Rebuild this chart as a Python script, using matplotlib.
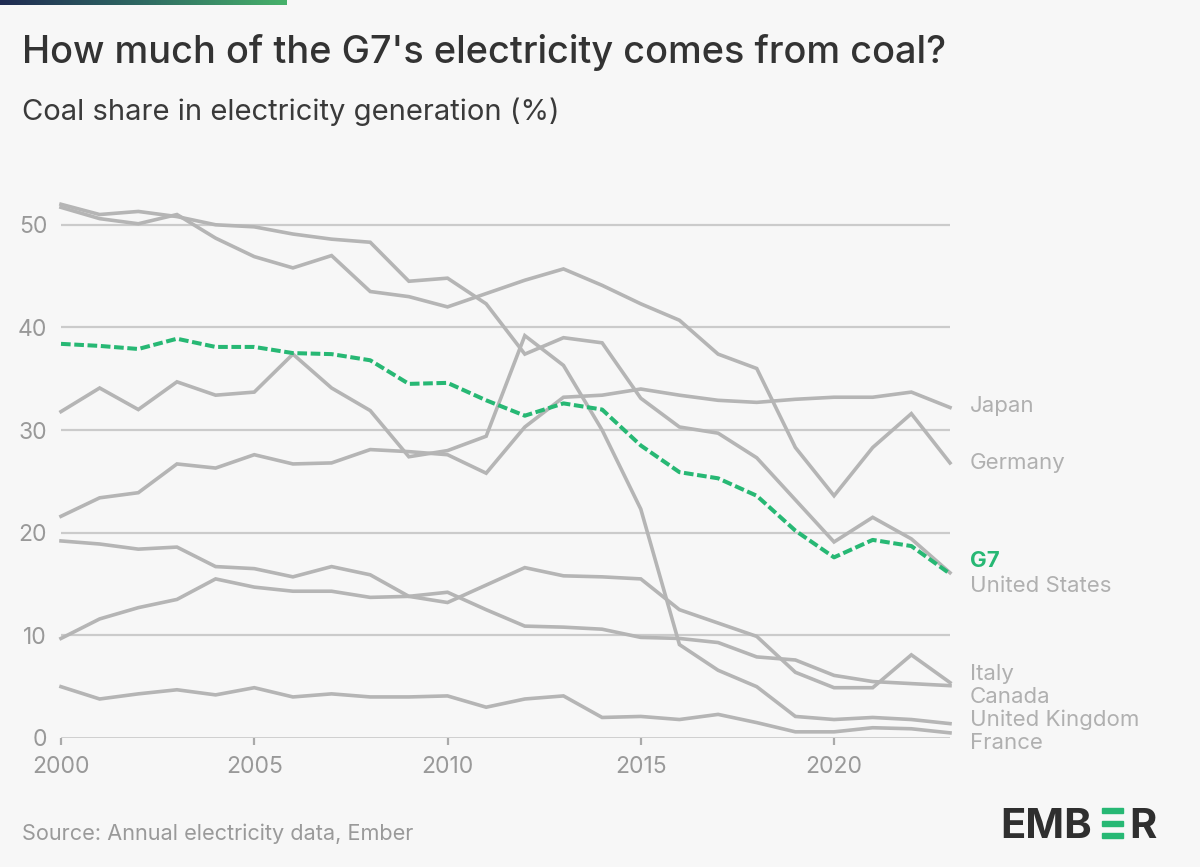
import matplotlib.pyplot as plt
import numpy as np
from matplotlib.colors import LinearSegmentedColormap
from matplotlib.patches import Rectangle

plt.rcParams['font.family'] = ['Inter', 'DejaVu Sans']

years = list(range(2000, 2024))

japan = [21.6, 23.4, 23.9, 26.7, 26.3, 27.6, 26.7, 26.8, 28.1, 27.9, 27.6, 25.8,
         30.3, 33.2, 33.4, 34.0, 33.4, 32.9, 32.7, 33.0, 33.2, 33.2, 33.7, 32.2]
germany = [51.7, 50.6, 50.1, 51.0, 48.7, 46.9, 45.8, 47.0, 43.5, 43.0, 42.0, 43.3,
           44.6, 45.7, 44.1, 42.3, 40.7, 37.4, 36.0, 28.3, 23.6, 28.3, 31.6, 26.8]
united_states = [52.0, 51.0, 51.3, 50.8, 50.0, 49.8, 49.1, 48.6, 48.3, 44.5, 44.8, 42.3,
                 37.4, 39.0, 38.5, 33.1, 30.3, 29.7, 27.3, 23.2, 19.1, 21.5, 19.4, 16.1]
italy = [9.7, 11.6, 12.7, 13.5, 15.5, 14.7, 14.3, 14.3, 13.7, 13.8, 13.2, 14.9,
         16.6, 15.8, 15.7, 15.5, 12.5, 11.2, 9.9, 6.4, 4.9, 4.9, 8.1, 5.4]
canada = [19.2, 18.9, 18.4, 18.6, 16.7, 16.5, 15.7, 16.7, 15.9, 13.8, 14.2, 12.5,
          10.9, 10.8, 10.6, 9.8, 9.7, 9.3, 7.9, 7.6, 6.1, 5.5, 5.3, 5.1]
united_kingdom = [31.8, 34.1, 32.0, 34.7, 33.4, 33.7, 37.4, 34.1, 31.9, 27.4, 28.0, 29.4,
                  39.2, 36.3, 30.0, 22.3, 9.1, 6.6, 5.0, 2.1, 1.8, 2.0, 1.8, 1.4]
france = [5.0, 3.8, 4.3, 4.7, 4.2, 4.9, 4.0, 4.3, 4.0, 4.0, 4.1, 3.0,
          3.8, 4.1, 2.0, 2.1, 1.8, 2.3, 1.5, 0.6, 0.6, 1.0, 0.9, 0.5]
g7 = [38.4, 38.2, 37.9, 38.9, 38.1, 38.1, 37.5, 37.4, 36.8, 34.5, 34.6, 32.9,
      31.4, 32.6, 32.0, 28.5, 25.9, 25.3, 23.6, 20.2, 17.6, 19.3, 18.7, 16.0]

countries = ['Japan', 'Germany', 'United States', 'Italy', 'Canada',
             'United Kingdom', 'France']
series = [japan, germany, united_states, italy, canada, united_kingdom, france]
label_y = [32.3, 26.8, 14.8, 6.2, 4.0, 1.75, -0.5]
g7_label_y = 17.2

bg = '#f7f7f7'
grey_line = '#b5b5b5'
green = '#27b874'

fig = plt.figure(figsize=(12, 8.67), dpi=100, facecolor=bg)
W, H = 1200, 867

# gradient bar at the top
bar_ax = fig.add_axes([0, 1 - 5 / H, 287 / W, 5 / H])
cmap = LinearSegmentedColormap.from_list('ember', ['#1f2b52', '#2f6a63', '#47b26b'])
bar_ax.imshow(np.linspace(0, 1, 256)[None, :], aspect='auto', cmap=cmap)
bar_ax.axis('off')

ax = fig.add_axes([61 / W, (H - 738) / H, (950 - 61) / W, 544 / H])
ax.set_facecolor(bg)
ax.set_xlim(2000, 2023)
ax.set_ylim(0, 53)

for v in [10, 20, 30, 40, 50]:
    ax.axhline(v, color='#cbcbcb', lw=1.6, zorder=1)
ax.axhline(0, color='#c4c4c4', lw=1.8, zorder=1)

for vals in series:
    ax.plot(years, vals, color=grey_line, lw=2.6, zorder=2,
            solid_joinstyle='miter', clip_on=False)
ax.plot(years, g7, color=green, lw=2.9, zorder=3, dashes=(2.4, 0.9),
        dash_capstyle='butt', clip_on=False)

for name, y in zip(countries, label_y):
    ax.text(2023.52, y, name, color='#b0b0b0', fontsize=16, va='center',
            ha='left', clip_on=False)
ax.text(2023.52, g7_label_y, 'G7', color=green, fontsize=16, fontweight='bold',
        va='center', ha='left', clip_on=False)

for s in ax.spines.values():
    s.set_visible(False)
ax.set_xticks([2000, 2005, 2010, 2015, 2020])
ax.set_yticks([0, 10, 20, 30, 40, 50])
ax.tick_params(axis='x', length=5, width=1.6, color='#aaaaaa', labelcolor='#999999',
               labelsize=16.5, pad=8)
ax.tick_params(axis='y', length=0, labelcolor='#999999', labelsize=16.5, pad=10)

fig.text(22 / W, 1 - 63 / H, "How much of the G7's electricity comes from coal?",
         fontsize=27.3, color='#333333', fontweight='medium', va='baseline')
fig.text(22 / W, 1 - 120 / H, 'Coal share in electricity generation (%)',
         fontsize=21, color='#3a3a3a', va='baseline')
fig.text(22 / W, 1 - 840 / H, 'Source: Annual electricity data, Ember',
         fontsize=15.6, color='#9a9a9a', va='baseline')

# Ember logo
fig.text(1000 / W, 1 - 838 / H, 'EMB', fontsize=30, fontweight='bold',
         color='#2f2f2f', va='baseline', ha='left')
fig.text(1157 / W, 1 - 838 / H, 'R', fontsize=30, fontweight='bold',
         color='#2f2f2f', va='baseline', ha='right')
for top in [808, 820.5, 833]:
    fig.patches.append(Rectangle((1102 / W, 1 - (top + 5) / H), 21 / W, 5 / H,
                                 transform=fig.transFigure, color=green))

fig.savefig('out.png', dpi=100, facecolor=bg)
